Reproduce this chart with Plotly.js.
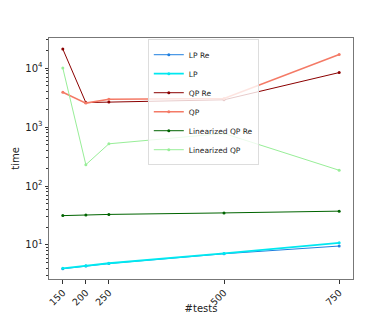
<!DOCTYPE html>
<html><head><meta charset="utf-8">
<script src="https://cdn.plot.ly/plotly-3.0.1.min.js"></script>
<style>html,body{margin:0;padding:0;background:#fff}#chart{width:392px;height:314px}</style>
</head><body><div id="chart"></div>
<script>
const tests = [150, 200, 250, 500, 750];
const lpRe = [3.95, 4.4, 4.85, 7.1, 9.6];
const lp = [4.03, 4.46, 4.9, 7.2, 10.9];
const qpRe = [21000, 2600, 2650, 2900, 8400];
const qp = [3900, 2550, 2950, 3050, 17000];
const linQpRe = [31.5, 32.3, 33, 35, 37.5];
const linQp = [10000, 230, 520, 780, 185];
const names = ['LP Re', 'LP', 'QP Re', 'QP', 'Linearized QP Re', 'Linearized QP'];
const seriesVals = [lpRe, lp, qpRe, qp, linQpRe, linQp];
const yTickVals = [10, 100, 1000, 10000];
const yTickText = ['10<sup>1</sup>', '10<sup>2</sup>', '10<sup>3</sup>', '10<sup>4</sup>'];
const colors = ['#1f7fe0', '#00e8f0', '#8b0000', '#f47a66', '#006400', '#98ee98'];
const widths = [1, 1.8, 1, 1.5, 1, 1];

const minorVals = [];
[1, 10, 100, 1000, 10000].forEach(d => { for (let k = 2; k <= 9; k++) minorVals.push(d * k); });

const traces = names.map((n, i) => ({
  x: tests, y: seriesVals[i], name: n, type: 'scatter', mode: 'lines+markers',
  line: {color: colors[i], width: widths[i]},
  marker: {color: colors[i], size: 3}
}));

const layout = {
  width: 392, height: 314,
  margin: {l: 49, r: 39, t: 38, b: 35},
  paper_bgcolor: '#fff', plot_bgcolor: '#fff',
  font: {family: 'DejaVu Sans', size: 10, color: '#222'},
  showlegend: true,
  legend: {x: 0.325, y: 0.995, xanchor: 'left', yanchor: 'top',
    bgcolor: 'rgba(255,255,255,0.8)', bordercolor: '#ddd', borderwidth: 1,
    font: {family: 'DejaVu Sans', size: 7.5, color: '#222'},
    tracegroupgap: 0, itemwidth: 30},
  xaxis: {
    range: [120, 780], tickvals: tests, ticktext: tests.map(String),
    tickangle: -45, ticks: 'outside', ticklen: 3.5, tickcolor: '#333',
    showgrid: false, zeroline: false, showline: true, mirror: true,
    linecolor: '#777', linewidth: 1,
    title: {text: '#tests', font: {family: 'DejaVu Sans', size: 10}, standoff: 0},
    tickfont: {family: 'DejaVu Sans', size: 9.5}
  },
  yaxis: {
    type: 'log', range: [Math.log10(2.65), Math.log10(32400)],
    tickvals: yTickVals, ticktext: yTickText,
    ticks: 'outside', ticklen: 3.5, tickcolor: '#333',
    minor: {tickvals: minorVals, ticks: 'outside', ticklen: 2, tickcolor: '#333', showgrid: false},
    showgrid: false, zeroline: false, showline: true, mirror: true,
    linecolor: '#777', linewidth: 1,
    title: {text: 'time', font: {family: 'DejaVu Sans', size: 10}, standoff: 3},
    tickfont: {family: 'DejaVu Sans', size: 10}
  }
};
Plotly.newPlot('chart', traces, layout, {displayModeBar: false, staticPlot: true});
</script></body></html>
